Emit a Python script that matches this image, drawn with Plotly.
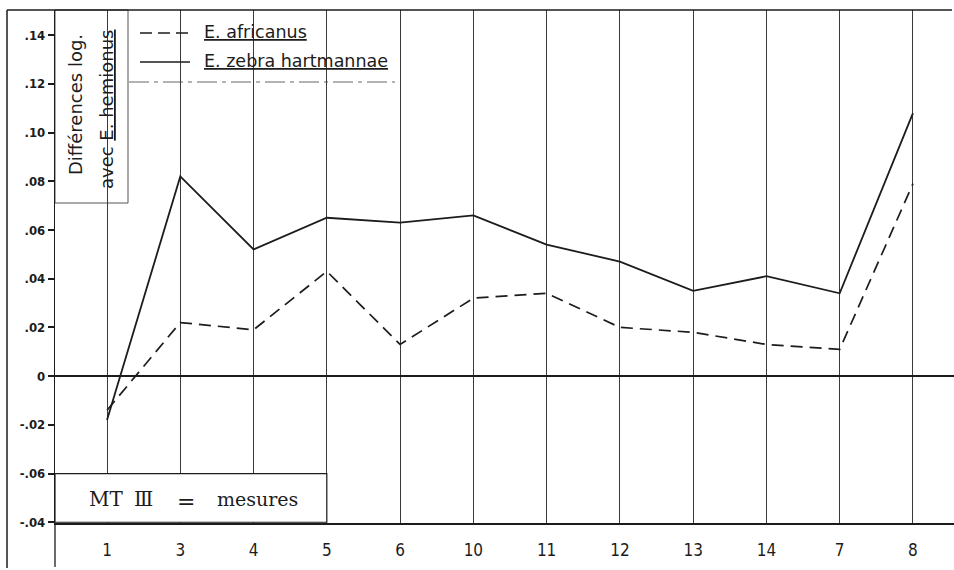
import plotly.graph_objects as go

# MT III measurement numbers, in the order they are plotted
mesures = ["1", "3", "4", "5", "6", "10", "11", "12", "13", "14", "7", "8"]

# log differences relative to E. hemionus
africanus = [-0.014, 0.022, 0.019, 0.043, 0.013, 0.032, 0.034, 0.020, 0.018, 0.013, 0.011, 0.079]
hartmannae = [-0.018, 0.082, 0.052, 0.065, 0.063, 0.066, 0.054, 0.047, 0.035, 0.041, 0.034, 0.108]

# y ticks as printed on the axis
y_tickvals = [0.14, 0.12, 0.10, 0.08, 0.06, 0.04, 0.02, 0.0, -0.02, -0.04, -0.06]
y_ticktext = [".14", ".12", ".10", ".08", ".06", ".04", ".02", "0", "-.02", "-.06", "-.04"]

W, H = 954, 570
# plot box in page pixels: left, right, top, bottom
BOX_L, BOX_R, BOX_T, BOX_B = 55, 954, 10, 523
XR = [-0.71, 11.56]
YR = [-0.0603, 0.1503]

INK = "#1c1c1c"
GRID = "#3a3a3a"
NARROW = "Liberation Sans Narrow, DejaVu Sans Condensed, Arial Narrow, Liberation Sans, sans-serif"
WIDE = "DejaVu Sans, Verdana, sans-serif"
SERIF = "DejaVu Serif, Liberation Serif, serif"


def px_x(px):
    return px / W


def px_y(py):
    return 1 - py / H


fig = go.Figure()

fig.add_trace(go.Scatter(
    x=mesures, y=africanus, mode="lines", name="E. africanus",
    line=dict(color=INK, width=1.7, dash="12px,7px"), showlegend=False,
))
fig.add_trace(go.Scatter(
    x=mesures, y=hartmannae, mode="lines", name="E. zebra hartmannae",
    line=dict(color=INK, width=1.8), showlegend=False,
))

shapes = []
# outer frame: top rule and left border
shapes.append(dict(type="line", xref="paper", yref="paper",
                   x0=px_x(7), x1=px_x(952), y0=px_y(BOX_T), y1=px_y(BOX_T),
                   line=dict(color=INK, width=1.6)))
shapes.append(dict(type="line", xref="paper", yref="paper",
                   x0=px_x(7), x1=px_x(7), y0=px_y(BOX_T), y1=px_y(568),
                   line=dict(color=INK, width=1.5)))
# y axis rule continued down past the category row
shapes.append(dict(type="line", xref="paper", yref="paper",
                   x0=px_x(BOX_L), x1=px_x(BOX_L), y0=px_y(BOX_B), y1=px_y(567),
                   line=dict(color=INK, width=1.3)))
# white panels that interrupt the vertical grid
shapes.append(dict(type="rect", layer="between", xref="paper", yref="paper",
                   x0=px_x(BOX_L), x1=px_x(128), y0=px_y(203), y1=px_y(BOX_T),
                   fillcolor="white", line=dict(color="#555", width=1)))
shapes.append(dict(type="rect", layer="between", xref="paper", yref="paper",
                   x0=px_x(129), x1=px_x(395), y0=px_y(82), y1=px_y(BOX_T),
                   fillcolor="white", line=dict(width=0)))
shapes.append(dict(type="line", layer="between", xref="paper", yref="paper",
                   x0=px_x(129), x1=px_x(395), y0=px_y(82), y1=px_y(82),
                   line=dict(color="#666", width=1, dash="20px,5px,4px,5px")))
shapes.append(dict(type="rect", layer="between", xref="x", yref="y",
                   x0=XR[0], x1=3, y0=-0.06, y1=-0.04,
                   fillcolor="white", line=dict(color=INK, width=1.2)))
# legend samples
shapes.append(dict(type="line", xref="paper", yref="paper",
                   x0=px_x(140), x1=px_x(190), y0=px_y(33), y1=px_y(33),
                   line=dict(color=INK, width=1.6, dash="12px,6px")))
shapes.append(dict(type="line", xref="paper", yref="paper",
                   x0=px_x(140), x1=px_x(190), y0=px_y(62), y1=px_y(62),
                   line=dict(color=INK, width=1.7)))


def note(text, px, py, size, family=WIDE, angle=0, anchor="center"):
    return dict(xref="paper", yref="paper", x=px_x(px), y=px_y(py),
                xanchor=anchor, yanchor="middle", textangle=angle,
                text=text, showarrow=False,
                font=dict(family=family, size=size, color=INK))


annotations = [
    note("<u>E. africanus</u>", 202, 32, 17.5, anchor="left"),
    note("<u>E. zebra hartmannae</u>", 202, 61, 17.5, anchor="left"),
    note("Différences log.", 75, 105, 18, angle=-90),
    note("avec <u>E. hemionus</u>", 107, 110, 18, angle=-90),
    note("MT", 106, 499, 20, family=SERIF),
    note("\u2162", 143, 499, 20, family=SERIF),
    note("=", 186, 501, 22, family=SERIF),
    note("mesures", 257, 499, 19, family=SERIF),
]

fig.update_layout(
    width=W, height=H,
    margin=dict(l=0, r=0, t=0, b=0, pad=0),
    paper_bgcolor="white", plot_bgcolor="white",
    shapes=shapes, annotations=annotations,
    xaxis=dict(
        type="category", range=XR, automargin=False,
        domain=[px_x(BOX_L), px_x(BOX_R)],
        showgrid=True, gridcolor=GRID, gridwidth=1,
        showline=True, linecolor=INK, linewidth=1.5,
        ticks="outside", ticklen=11, tickcolor="rgba(0,0,0,0)",
        tickfont=dict(family=NARROW, size=17, color=INK),
        zeroline=False, fixedrange=True,
    ),
    yaxis=dict(
        range=YR, tickvals=y_tickvals, ticktext=y_ticktext, automargin=False,
        domain=[px_y(BOX_B), px_y(BOX_T)],
        showgrid=False, zeroline=True, zerolinecolor=INK, zerolinewidth=1.6,
        showline=True, linecolor=INK, linewidth=1.3,
        ticks="outside", ticklen=6, tickwidth=1.5, tickcolor=INK,
        tickfont=dict(family=NARROW, size=13, color=INK, weight="bold"),
        fixedrange=True,
    ),
)

fig.write_html("out.html")
